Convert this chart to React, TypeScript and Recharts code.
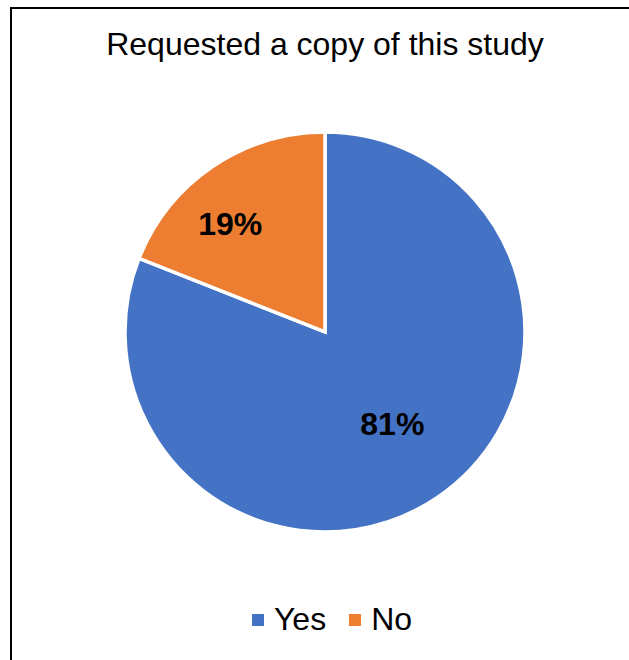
import React from "react";
import { PieChart, Pie, Cell, Legend } from "recharts";

const categories = ["Yes", "No"];
const shares = [81, 19];
const sliceColors = ["#4472C4", "#ED7D31"];
// how far out (fraction of radius) each percentage sits, plus a small angular nudge
const labelRadius = [0.57, 0.72];
const labelNudge = [2, 7];

const data = categories.map((name, i) => ({ name, value: shares[i] }));

const FONT = "'Liberation Sans', Arial, sans-serif";
const RAD = Math.PI / 180;

const renderLabel = (props: any) => {
  const { cx, cy, midAngle, outerRadius, index, value } = props;
  const r = outerRadius * labelRadius[index];
  const a = (midAngle + labelNudge[index]) * RAD;
  const x = cx + r * Math.cos(-a);
  const y = cy + r * Math.sin(-a);
  return (
    <text
      x={x}
      y={y}
      fill="#000"
      textAnchor="middle"
      dominantBaseline="central"
      style={{ fontFamily: FONT, fontSize: 32, fontWeight: 700 }}
    >
      {`${value}%`}
    </text>
  );
};

// keep legend entries in data order (Yes, No)
const renderLegend = (props: any) => {
  const items = [...props.payload].sort(
    (a: any, b: any) => categories.indexOf(a.value) - categories.indexOf(b.value)
  );
  return (
    <div
      style={{
        display: "flex",
        justifyContent: "center",
        alignItems: "center",
        paddingLeft: 14,
        fontFamily: FONT,
        fontSize: 32,
        color: "#000",
      }}
    >
      {items.map((p: any, i: number) => (
        <div
          key={p.value}
          style={{ display: "flex", alignItems: "center", marginLeft: i ? 23 : 0 }}
        >
          <span
            style={{
              display: "inline-block",
              width: 12,
              height: 12,
              background: p.color,
              marginRight: 10,
            }}
          />
          <span>{p.value}</span>
        </div>
      ))}
    </div>
  );
};

export default function App() {
  return (
    <div
      style={{
        position: "absolute",
        left: 0,
        top: 0,
        width: 629,
        height: 660,
        overflow: "hidden",
        background: "#fff",
      }}
    >
      <div
        style={{
          position: "absolute",
          left: 10,
          top: 7,
          width: 700,
          height: 700,
          border: "2px solid #000",
        }}
      />
      <div
        style={{
          position: "absolute",
          left: 0,
          top: 26,
          width: 650,
          textAlign: "center",
          fontFamily: FONT,
          fontSize: 32,
          color: "#000",
        }}
      >
        Requested a copy of this study
      </div>
      <div style={{ position: "absolute", left: 0, top: 0 }}>
        <PieChart
          width={629}
          height={660}
          margin={{ top: 0, right: 0, bottom: 0, left: 0 }}
        >
          <Pie
            data={data}
            dataKey="value"
            nameKey="name"
            cx={325}
            cy={332}
            outerRadius={200}
            startAngle={90}
            endAngle={-270}
            stroke="#fff"
            strokeWidth={3.5}
            label={renderLabel}
            labelLine={false}
            isAnimationActive={false}
          >
            {data.map((d, i) => (
              <Cell key={d.name} fill={sliceColors[i]} />
            ))}
          </Pie>
          <Legend
            content={renderLegend}
            wrapperStyle={{ top: 601, left: 0, width: 650 }}
          />
        </PieChart>
      </div>
    </div>
  );
}
